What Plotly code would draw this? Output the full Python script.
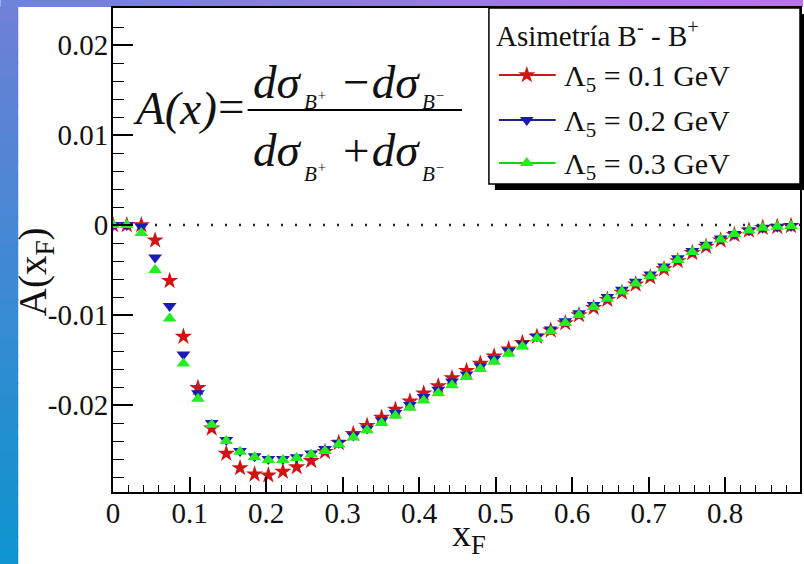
import plotly.graph_objects as go

# ---------------- data ----------------
x_f = [0.000, 0.018, 0.037, 0.055, 0.074, 0.092, 0.111, 0.129, 0.148, 0.166,
       0.185, 0.203, 0.222, 0.240, 0.259, 0.277, 0.295, 0.314, 0.332, 0.351,
       0.369, 0.388, 0.406, 0.425, 0.443, 0.462, 0.480, 0.498, 0.517, 0.535,
       0.554, 0.572, 0.591, 0.609, 0.628, 0.646, 0.665, 0.683, 0.702, 0.720,
       0.738, 0.757, 0.775, 0.794, 0.812, 0.831, 0.849, 0.868, 0.886]

a_l01 = [0.0, 0.0, 0.0, -0.0017, -0.0062, -0.0124, -0.0181, -0.0226, -0.0254, -0.0270,
         -0.0277, -0.0278, -0.0274, -0.0269, -0.0262, -0.0252, -0.0242, -0.0232, -0.0223, -0.0214,
         -0.0205, -0.0196, -0.0187, -0.0179, -0.0170, -0.0162, -0.0154, -0.0146, -0.0138, -0.0131,
         -0.0124, -0.0117, -0.0109, -0.0100, -0.0092, -0.0083, -0.0075, -0.0066, -0.0058, -0.0049,
         -0.0040, -0.0031, -0.0024, -0.0017, -0.0011, -0.0006, -0.0003, -0.0002, -0.0001]

a_l02 = [0.0, 0.0, -0.0002, -0.0036, -0.0090, -0.0144, -0.0187, -0.0220, -0.0239, -0.0251,
         -0.0257, -0.0260, -0.0260, -0.0258, -0.0254, -0.0249, -0.0242, -0.0234, -0.0226, -0.0217,
         -0.0209, -0.0200, -0.0191, -0.0183, -0.0174, -0.0166, -0.0157, -0.0149, -0.0140, -0.0132,
         -0.0124, -0.0116, -0.0107, -0.0098, -0.0089, -0.0080, -0.0072, -0.0063, -0.0055, -0.0046,
         -0.0037, -0.0029, -0.0022, -0.0015, -0.0010, -0.0006, -0.0003, -0.0002, -0.0001]

a_l03 = [0.0, 0.0, -0.0009, -0.0050, -0.0104, -0.0154, -0.0193, -0.0222, -0.0240, -0.0252,
         -0.0258, -0.0261, -0.0261, -0.0259, -0.0255, -0.0251, -0.0244, -0.0236, -0.0228, -0.0220,
         -0.0212, -0.0203, -0.0195, -0.0187, -0.0178, -0.0169, -0.0160, -0.0152, -0.0143, -0.0135,
         -0.0126, -0.0118, -0.0109, -0.0100, -0.0091, -0.0082, -0.0074, -0.0065, -0.0057, -0.0048,
         -0.0039, -0.0030, -0.0023, -0.0016, -0.0010, -0.0006, -0.0003, -0.0002, -0.0001]

series_names = ["Λ<sub>5</sub> = 0.1 GeV", "Λ<sub>5</sub> = 0.2 GeV", "Λ<sub>5</sub> = 0.3 GeV"]
x_tickvals = [0, 0.1, 0.2, 0.3, 0.4, 0.5, 0.6, 0.7, 0.8]
x_ticktext = ["0", "0.1", "0.2", "0.3", "0.4", "0.5", "0.6", "0.7", "0.8"]
y_tickvals = [0.02, 0.01, 0, -0.01, -0.02]
y_ticktext = ["0.02", "0.01", "0", "-0.01", "-0.02"]

# ---------------- layout geometry (pixels) ----------------
W, H = 804, 564
L, R, T, B = 113, 802, 8, 492
FONT = "Liberation Serif, Times New Roman, Times, serif"


def px(x):
    return (x - L) / (R - L)


def py(y):
    return (B - y) / (B - T)


colors = ["#d01414", "#1a1ab4", "#22ee22"]
line_colors = ["#b82020", "#20208c", "#18d018"]
symbols = ["star", "triangle-down", "triangle-up"]
sizes = [13, 12, 12]

fig = go.Figure()

for vals, name, c, s, sz in zip([a_l01, a_l02, a_l03], series_names, colors, symbols, sizes):
    fig.add_trace(go.Scatter(x=x_f, y=vals, mode="markers", name=name, showlegend=False,
                             marker=dict(symbol=s, size=sz, color=c, line=dict(width=0))))

# legend samples on an overlay axis (0..1 = plot area)
leg_y = [75, 120, 163]
for yy, c, lc, s, sz in zip(leg_y, colors, line_colors, symbols, sizes):
    fig.add_trace(go.Scatter(x=[px(500), px(557)], y=[py(yy), py(yy)], mode="lines",
                             line=dict(color=lc, width=2), xaxis="x2", yaxis="y2",
                             showlegend=False, hoverinfo="skip"))
    fig.add_trace(go.Scatter(x=[px(528)], y=[py(yy)], mode="markers",
                             marker=dict(symbol=s, size=sz, color=c, line=dict(width=0)),
                             xaxis="x2", yaxis="y2", showlegend=False, hoverinfo="skip"))

shapes = []
# white panel
shapes.append(dict(type="rect", xref="paper", yref="paper", x0=px(18), x1=px(W + 5),
                   y0=py(H + 5), y1=py(7), fillcolor="white", line=dict(width=0), layer="below"))


def lerp(c1, c2, t):
    return "rgb(%d,%d,%d)" % tuple(round(a + (b - a) * t) for a, b in zip(c1, c2))


# top gradient band
N = 40
top_l, top_r = (108, 132, 218), (188, 112, 244)
for i in range(N):
    x0 = i * W / N
    x1 = (i + 1) * W / N + 1
    shapes.append(dict(type="rect", xref="paper", yref="paper", x0=px(x0), x1=px(x1),
                       y0=py(7), y1=py(-2), fillcolor=lerp(top_l, top_r, i / (N - 1)),
                       line=dict(width=0), layer="below"))
# left gradient band
left_t, left_m, left_b = (110, 128, 216), (60, 138, 210), (14, 148, 206)
for i in range(N):
    y0 = 7 + i * (H - 7) / N
    y1 = 7 + (i + 1) * (H - 7) / N + 1
    t = i / (N - 1)
    col = lerp(left_t, left_m, t * 2) if t < 0.5 else lerp(left_m, left_b, (t - 0.5) * 2)
    shapes.append(dict(type="rect", xref="paper", yref="paper", x0=px(-2), x1=px(18),
                       y0=py(y1), y1=py(y0), fillcolor=col, line=dict(width=0), layer="below"))

# zero dotted line
shapes.append(dict(type="line", xref="paper", yref="y", x0=0, x1=1, y0=0, y1=0,
                   line=dict(color="#222", width=2.5, dash="2px,12px"), layer="below"))
# legend shadow and box
shapes.append(dict(type="rect", xref="paper", yref="paper", x0=px(496), x1=px(812),
                   y0=py(190), y1=py(14), fillcolor="black", line=dict(width=0), layer="below"))
shapes.append(dict(type="rect", xref="paper", yref="paper", x0=px(490), x1=px(802),
                   y0=py(184), y1=py(8), fillcolor="white", line=dict(color="black", width=1.5),
                   layer="below"))
# fraction bar
shapes.append(dict(type="line", xref="paper", yref="paper", x0=px(248), x1=px(463),
                   y0=py(110), y1=py(110), line=dict(color="black", width=2)))

ann = []


def text(x, y, s, size, xanchor="left", yanchor="middle", italic=False, angle=0):
    ann.append(dict(x=px(x), y=py(y), xref="paper", yref="paper", text=s, showarrow=False,
                    xanchor=xanchor, yanchor=yanchor, textangle=angle,
                    font=dict(family=FONT, size=size, color="#111",
                              style="italic" if italic else "normal")))


# legend texts
text(495, 34, "Asimetría B<sup>-</sup> - B<sup>+</sup>", 29)
for yy, nm in zip(leg_y, series_names):
    text(563, yy + 3, nm, 30)

# formula
FS = 47
text(131, 108, "A(x)", FS, italic=True)
text(216, 106, "=", FS)
text(251, 82, "dσ", FS, italic=True)
text(303, 101, "B<sup>+</sup>", 21, italic=True)
text(339, 82, "−dσ", FS, italic=True)
text(421, 101, "B<sup>−</sup>", 21, italic=True)
text(251, 150, "dσ", FS, italic=True)
text(303, 172, "B<sup>+</sup>", 21, italic=True)
text(339, 150, "+dσ", FS, italic=True)
text(421, 172, "B<sup>−</sup>", 21, italic=True)

# axis titles
text(470, 536, "x<sub>F</sub>", 38, xanchor="center")
text(35, 272, "A(x<sub>F</sub>)", 39, xanchor="center", angle=-90)

fig.update_layout(
    width=W, height=H,
    margin=dict(l=L, r=W - R, t=T, b=H - B),
    paper_bgcolor="white", plot_bgcolor="rgba(0,0,0,0)",
    showlegend=False,
    font=dict(family=FONT),
    shapes=shapes, annotations=ann,
    xaxis=dict(range=[0, (R - L) / 767.5], tickvals=x_tickvals, ticktext=x_ticktext,
               ticks="inside", ticklen=15, tickwidth=1.5, tickcolor="black",
               showline=True, linecolor="black", linewidth=2, mirror=True,
               showgrid=False, zeroline=False, ticklabelstandoff=-6,
               tickfont=dict(family=FONT, size=29, color="#111"),
               minor=dict(dtick=0.02, ticks="inside", ticklen=7, tickwidth=1.2, tickcolor="black",
                          showgrid=False)),
    yaxis=dict(range=[(225 - B) / 9000, (225 - T) / 9000], tickvals=y_tickvals, ticktext=y_ticktext,
               ticks="inside", ticklen=20, tickwidth=1.5, tickcolor="black",
               showline=True, linecolor="black", linewidth=2, mirror=True,
               showgrid=False, zeroline=False, ticklabelstandoff=-3,
               tickfont=dict(family=FONT, size=29, color="#111"),
               minor=dict(tickvals=[round(-0.028 + 0.002 * k, 4) for k in range(27)],
                          ticks="inside", ticklen=11, tickwidth=1.2, tickcolor="black",
                          showgrid=False)),
    xaxis2=dict(range=[0, 1], overlaying="x", visible=False, fixedrange=True),
    yaxis2=dict(range=[0, 1], overlaying="y", visible=False, fixedrange=True),
)

fig.write_html("out.html")
